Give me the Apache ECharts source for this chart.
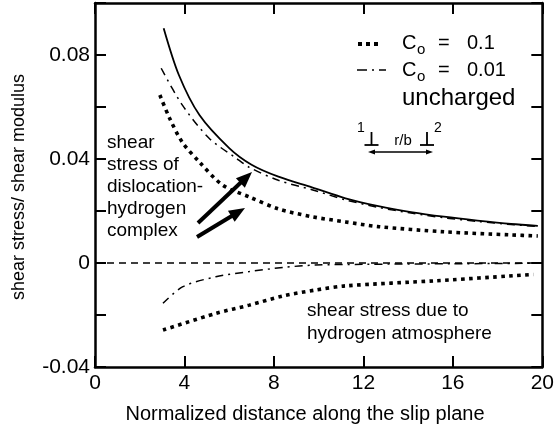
<!DOCTYPE html>
<html>
<head>
<meta charset="utf-8">
<script src="https://cdn.jsdelivr.net/npm/echarts@6/dist/echarts.min.js"></script>
<style>
html,body{margin:0;padding:0;background:#fff;}
#chart{width:557px;height:434px;}
</style>
</head>
<body>
<div id="chart"></div>
<script>
// ---- data ----
const xTickLabels = ['0','4','8','12','16','20'];
const yTickLabels = ['-0.04','0','0.04','0.08'];

const unchargedX = [3.07, 3.75, 4.67, 6.0, 7.0, 8.2, 9.7, 11.2, 12.67, 14.13, 15.6, 17.1, 18.6, 19.8];
const unchargedY = [0.0903, 0.0723, 0.0569, 0.0442, 0.0378, 0.0332, 0.0291, 0.0249, 0.0219, 0.0196, 0.0178, 0.0163, 0.015, 0.0143];

const co001TotalX = [2.96, 3.9, 5.1, 6.3, 6.9, 8.2, 9.7, 11.2, 12.67, 14.13, 15.6, 17.1, 18.6, 19.8];
const co001TotalY = [0.0749, 0.0608, 0.048, 0.0404, 0.0368, 0.0318, 0.0282, 0.0243, 0.0214, 0.0192, 0.0174, 0.016, 0.0148, 0.0141];

const co01TotalX = [2.9, 3.33, 3.9, 4.67, 5.7, 6.9, 8.2, 9.7, 11.2, 12.67, 15.6, 18.6, 19.8];
const co01TotalY = [0.0646, 0.0558, 0.0465, 0.0388, 0.030, 0.0254, 0.0208, 0.0178, 0.0158, 0.014, 0.012, 0.0108, 0.0104];

const co001HX = [3.04, 3.93, 5.4, 6.9, 8.4, 9.85, 12.0, 16.0, 20.0];
const co001HY = [-0.0155, -0.0091, -0.0053, -0.0033, -0.0017, -0.0008, -0.0005, -0.0003, -0.0001];

const co01HX = [3.04, 5.4, 6.9, 8.4, 9.85, 11.2, 15.3, 19.6];
const co01HY = [-0.0258, -0.0194, -0.0162, -0.0127, -0.0104, -0.0088, -0.0068, -0.0044];

const zeroX = [0, 20];
const zeroY = [0, 0];

function pairs(xs, ys){ return xs.map((x,i)=>[x, ys[i]]); }

const FONT = '"Liberation Sans", Arial, Helvetica, sans-serif';

const chart = echarts.init(document.getElementById('chart'));

function arrow(x1,y1,x2,y2,w,hl,hw){
  const dx=x2-x1, dy=y2-y1, L=Math.sqrt(dx*dx+dy*dy);
  const ux=dx/L, uy=dy/L, px=-uy, py=ux;
  const bx=x2-ux*hl, by=y2-uy*hl;
  return [
    {type:'line', shape:{x1:x1,y1:y1,x2:bx+ux*1,y2:by+uy*1}, style:{stroke:'#000', lineWidth:w}},
    {type:'polygon', shape:{points:[[x2,y2],[bx+px*hw/2,by+py*hw/2],[bx-px*hw/2,by-py*hw/2]]}, style:{fill:'#000'}}
  ];
}

const graphics = [];
// axis titles
graphics.push({type:'text', x:305, y:414, style:{text:'Normalized distance along the slip plane', font:'20px '+FONT, fill:'#000', align:'center', verticalAlign:'middle'}});
graphics.push({type:'text', x:19, y:187, rotation:Math.PI/2, style:{text:'shear stress/ shear modulus', font:'18px '+FONT, fill:'#000', align:'center', verticalAlign:'middle'}});
// annotations
graphics.push({type:'text', x:107, y:132, style:{text:'shear\nstress of\ndislocation-\nhydrogen\ncomplex', font:'19px '+FONT, lineHeight:22, fill:'#000', align:'left', verticalAlign:'top'}});
graphics.push({type:'text', x:307, y:299, style:{text:'shear stress due to\nhydrogen atmosphere', font:'19px '+FONT, lineHeight:23, fill:'#000', align:'left', verticalAlign:'top'}});
// legend rows
graphics.push({type:'line', shape:{x1:358,y1:44,x2:382,y2:44}, style:{stroke:'#000', lineWidth:4, lineDash:[4,4]}});
graphics.push({type:'line', shape:{x1:357,y1:70,x2:386,y2:70}, style:{stroke:'#000', lineWidth:1.5, lineDash:[10,5,2,5]}});
[[43,'0.1'],[70,'0.01']].forEach(function(r){
  graphics.push({type:'text', x:402, y:r[0], style:{text:'C', font:'20px '+FONT, fill:'#000', verticalAlign:'middle'}});
  graphics.push({type:'text', x:417, y:r[0]+7, style:{text:'o', font:'15px '+FONT, fill:'#000', verticalAlign:'middle'}});
  graphics.push({type:'text', x:438, y:r[0], style:{text:'=', font:'20px '+FONT, fill:'#000', verticalAlign:'middle'}});
  graphics.push({type:'text', x:467, y:r[0], style:{text:r[1], font:'20px '+FONT, fill:'#000', verticalAlign:'middle'}});
});
graphics.push({type:'text', x:402, y:98, style:{text:'uncharged', font:'24px '+FONT, fill:'#000', verticalAlign:'middle'}});
// dislocation sketch
graphics.push({type:'text', x:361, y:128, style:{text:'1', font:'14px '+FONT, fill:'#000', align:'center', verticalAlign:'middle'}});
graphics.push({type:'text', x:438, y:128, style:{text:'2', font:'14px '+FONT, fill:'#000', align:'center', verticalAlign:'middle'}});
graphics.push({type:'text', x:403, y:141, style:{text:'r/b', font:'15px '+FONT, fill:'#000', align:'center', verticalAlign:'middle'}});
[371.5, 427].forEach(function(cx){
  graphics.push({type:'line', shape:{x1:cx,y1:132,x2:cx,y2:145}, style:{stroke:'#000', lineWidth:1.8}});
  graphics.push({type:'line', shape:{x1:cx-7,y1:145,x2:cx+7,y2:145}, style:{stroke:'#000', lineWidth:1.8}});
});
graphics.push({type:'line', shape:{x1:373,y1:152,x2:428,y2:152}, style:{stroke:'#000', lineWidth:1.5}});
graphics.push({type:'polygon', shape:{points:[[368,152],[375,149.5],[375,154.5]]}, style:{fill:'#000'}});
graphics.push({type:'polygon', shape:{points:[[433,152],[426,149.5],[426,154.5]]}, style:{fill:'#000'}});
// thick arrows
arrow(198,223,252,172,4,16,13).forEach(g=>graphics.push(g));
arrow(197,237,245,208,4,16,13).forEach(g=>graphics.push(g));

const axisLine = {show:true, onZero:false, lineStyle:{color:'#000', width:2.5}};
const axisTick = {show:true, inside:true, length:11, lineStyle:{color:'#000', width:2}};

function fmtY(v){
  const s = String(Number(v.toFixed(2)));
  return yTickLabels.indexOf(s) >= 0 ? s : '';
}
function fmtX(v){
  const s = String(Number(v.toFixed(0)));
  return xTickLabels.indexOf(s) >= 0 ? s : '';
}

const lineBase = {type:'line', showSymbol:false, symbol:'none', smooth:0.3, animation:false, silent:true, z:3};

chart.setOption({
  backgroundColor:'#fff',
  animation:false,
  grid:{left:95, right:12, top:3, bottom:67, containLabel:false},
  xAxis:[
    {type:'value', min:0, max:20, interval:4, position:'bottom',
     axisLine:axisLine, axisTick:axisTick, splitLine:{show:false},
     axisLabel:{show:true, margin:6, color:'#000', fontSize:21, fontFamily:FONT, formatter:fmtX}},
    {type:'value', min:0, max:20, interval:4, position:'top',
     axisLine:axisLine, axisTick:axisTick, splitLine:{show:false}, axisLabel:{show:false}}
  ],
  yAxis:[
    {type:'value', min:-0.04, max:0.1, interval:0.02, position:'left',
     axisLine:axisLine, axisTick:axisTick, splitLine:{show:false},
     axisLabel:{show:true, margin:5, color:'#000', fontSize:21, fontFamily:FONT, formatter:fmtY}},
    {type:'value', min:-0.04, max:0.1, interval:0.02, position:'right',
     axisLine:axisLine, axisTick:axisTick, splitLine:{show:false}, axisLabel:{show:false}}
  ],
  series:[
    Object.assign({}, lineBase, {name:'zero', data:pairs(zeroX, zeroY), smooth:false,
      lineStyle:{color:'#000', width:1.5, type:[7,5]}}),
    Object.assign({}, lineBase, {name:'uncharged', data:pairs(unchargedX, unchargedY),
      lineStyle:{color:'#000', width:1.8, type:'solid'}}),
    Object.assign({}, lineBase, {name:'Co = 0.01', data:pairs(co001TotalX, co001TotalY),
      lineStyle:{color:'#000', width:1.5, type:[8,5,2,5]}}),
    Object.assign({}, lineBase, {name:'Co = 0.1', data:pairs(co01TotalX, co01TotalY),
      lineStyle:{color:'#000', width:3.6, type:[3.6,4.4]}}),
    Object.assign({}, lineBase, {name:'Co = 0.01 H', data:pairs(co001HX, co001HY),
      lineStyle:{color:'#000', width:1.5, type:[8,5,2,5]}}),
    Object.assign({}, lineBase, {name:'Co = 0.1 H', data:pairs(co01HX, co01HY),
      lineStyle:{color:'#000', width:3.6, type:[3.6,4.4]}})
  ],
  graphic: graphics
});
</script>
</body>
</html>
